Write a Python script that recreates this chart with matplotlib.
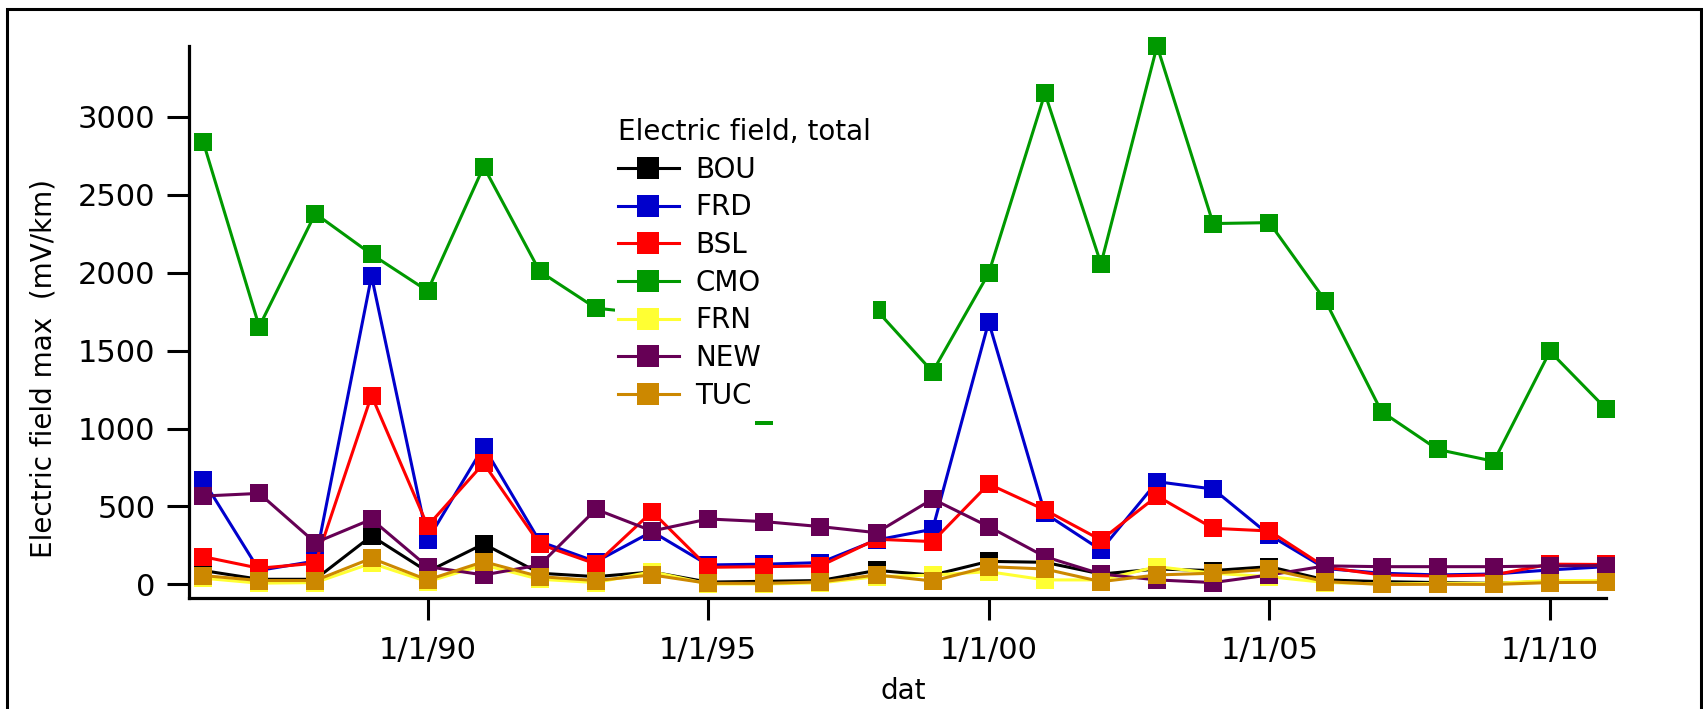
import datetime as dt
import matplotlib
matplotlib.use('Agg')
import matplotlib.pyplot as plt
import matplotlib.dates as mdates
from matplotlib.ticker import FuncFormatter

years = list(range(1986, 2012))

# yearly max of total electric field (mV/km)
BOU = [89, 33, 33, 311, 82, 260, 72, 50, 80, 15, 20, 25, 90, 60,
       148, 142, 67, 99, 89, 114, 29, 18, 12, 7, 18, 18]
FRD = [670, 90, 150, 1978, 285, 884, 275, 146, 339, 125, 130, 140, 285, 354,
       1684, 456, 221, 659, 612, 317, 102, 72, 61, 67, 93, 114]
BSL = [178, 104, 136, 1212, 375, 777, 258, 131, 467, 110, 114, 119, 290, 275,
       644, 478, 285, 567, 360, 343, 110, 61, 54, 61, 130, 128]
CMO = [2840, 1654, 2379, 2118, 1883, 2680, 2008, 1772, 1735, 1500, 1080, 1400, 1760, 1364,
       1996, 3150, 2057, 3454, 2315, 2321, 1819, 1109, 866, 790, 1495, 1127]
FRN = [40, 8, 12, 136, 18, 125, 33, 12, 82, 3, 3, 10, 50, 60,
       82, 29, 29, 114, 72, 50, 12, 3, 7, 7, 25, 25]
NEW = [567, 584, 268, 418, 114, 61, 125, 482, 343, 420, 403, 371, 332, 548,
       371, 178, 67, 29, 12, 61, 119, 114, 114, 114, 119, 121]
TUC = [57, 25, 25, 168, 29, 146, 50, 25, 61, 7, 7, 16, 61, 22,
       114, 99, 18, 61, 72, 97, 18, 0, 1, 0, 12, 14]

stations = ['BOU', 'FRD', 'BSL', 'CMO', 'FRN', 'NEW', 'TUC']
series = [BOU, FRD, BSL, CMO, FRN, NEW, TUC]
colors = ['#000000', '#0000CC', '#FF0000', '#009900', '#FFFF33', '#660055', '#CC8800']

dates = [dt.datetime(y, 1, 1) for y in years]

W, H = 1703, 709
fig = plt.figure(figsize=(W / 100, H / 100), dpi=100)
ax = fig.add_axes([189 / W, 1 - 598 / H, (1606 - 189) / W, (598 - 46) / H])

for name, vals, c in zip(stations, series, colors):
    ax.plot(dates, vals, color=c, lw=2.2, marker='s', ms=12.5, mew=0,
            label=name, clip_on=False)

ax.set_xlim(dt.datetime(1985, 10, 1), dt.datetime(2011, 1, 1))
ax.set_ylim(-87, 3454)
ax.set_yticks([0, 500, 1000, 1500, 2000, 2500, 3000])
ax.set_xticks([dt.datetime(y, 1, 1) for y in [1990, 1995, 2000, 2005, 2010]])
ax.xaxis.set_major_formatter(FuncFormatter(
    lambda x, p: '{0.month}/{0.day}/{0:%y}'.format(mdates.num2date(x))))

for s in ['top', 'right']:
    ax.spines[s].set_visible(False)
for s in ['left', 'bottom']:
    ax.spines[s].set_linewidth(2.3)
ax.tick_params(axis='both', length=16, width=2.2, labelsize=22, direction='out')
ax.tick_params(axis='y', pad=8)
ax.tick_params(axis='x', pad=11)

leg = ax.legend(title='Electric field, total', loc='upper left',
                bbox_to_anchor=(615 / W, 1 - 115 / H), bbox_transform=fig.transFigure,
                fontsize=20, title_fontsize=20, frameon=True, facecolor='white',
                edgecolor='none', framealpha=1, fancybox=False, borderpad=0.1,
                borderaxespad=0, labelspacing=0.35, handlelength=2.2,
                handletextpad=0.6, markerscale=1.25, alignment='left')
leg.set_zorder(10)

# the legend's white box reaches a little lower than its last row
ax.add_patch(plt.Rectangle((615 / W, 1 - 421 / H), (878 - 615) / W, 45 / H,
                           transform=fig.transFigure, color='white', lw=0,
                           zorder=9, clip_on=False))

fig.text(44 / W, 1 - 369 / H, 'Electric field max  (mV/km)', rotation=90,
         ha='center', va='center', fontsize=20)
fig.text(903 / W, 1 - 691 / H, 'dat', ha='center', va='center', fontsize=20)

# outer frame
fig.add_artist(plt.Rectangle((7 / W, -0.1), (1701 - 7) / W, 0.1 + (709 - 8.5) / H,
                             transform=fig.transFigure, fill=False, lw=2.2,
                             ec='black'))

fig.savefig('out.png', dpi=100)
